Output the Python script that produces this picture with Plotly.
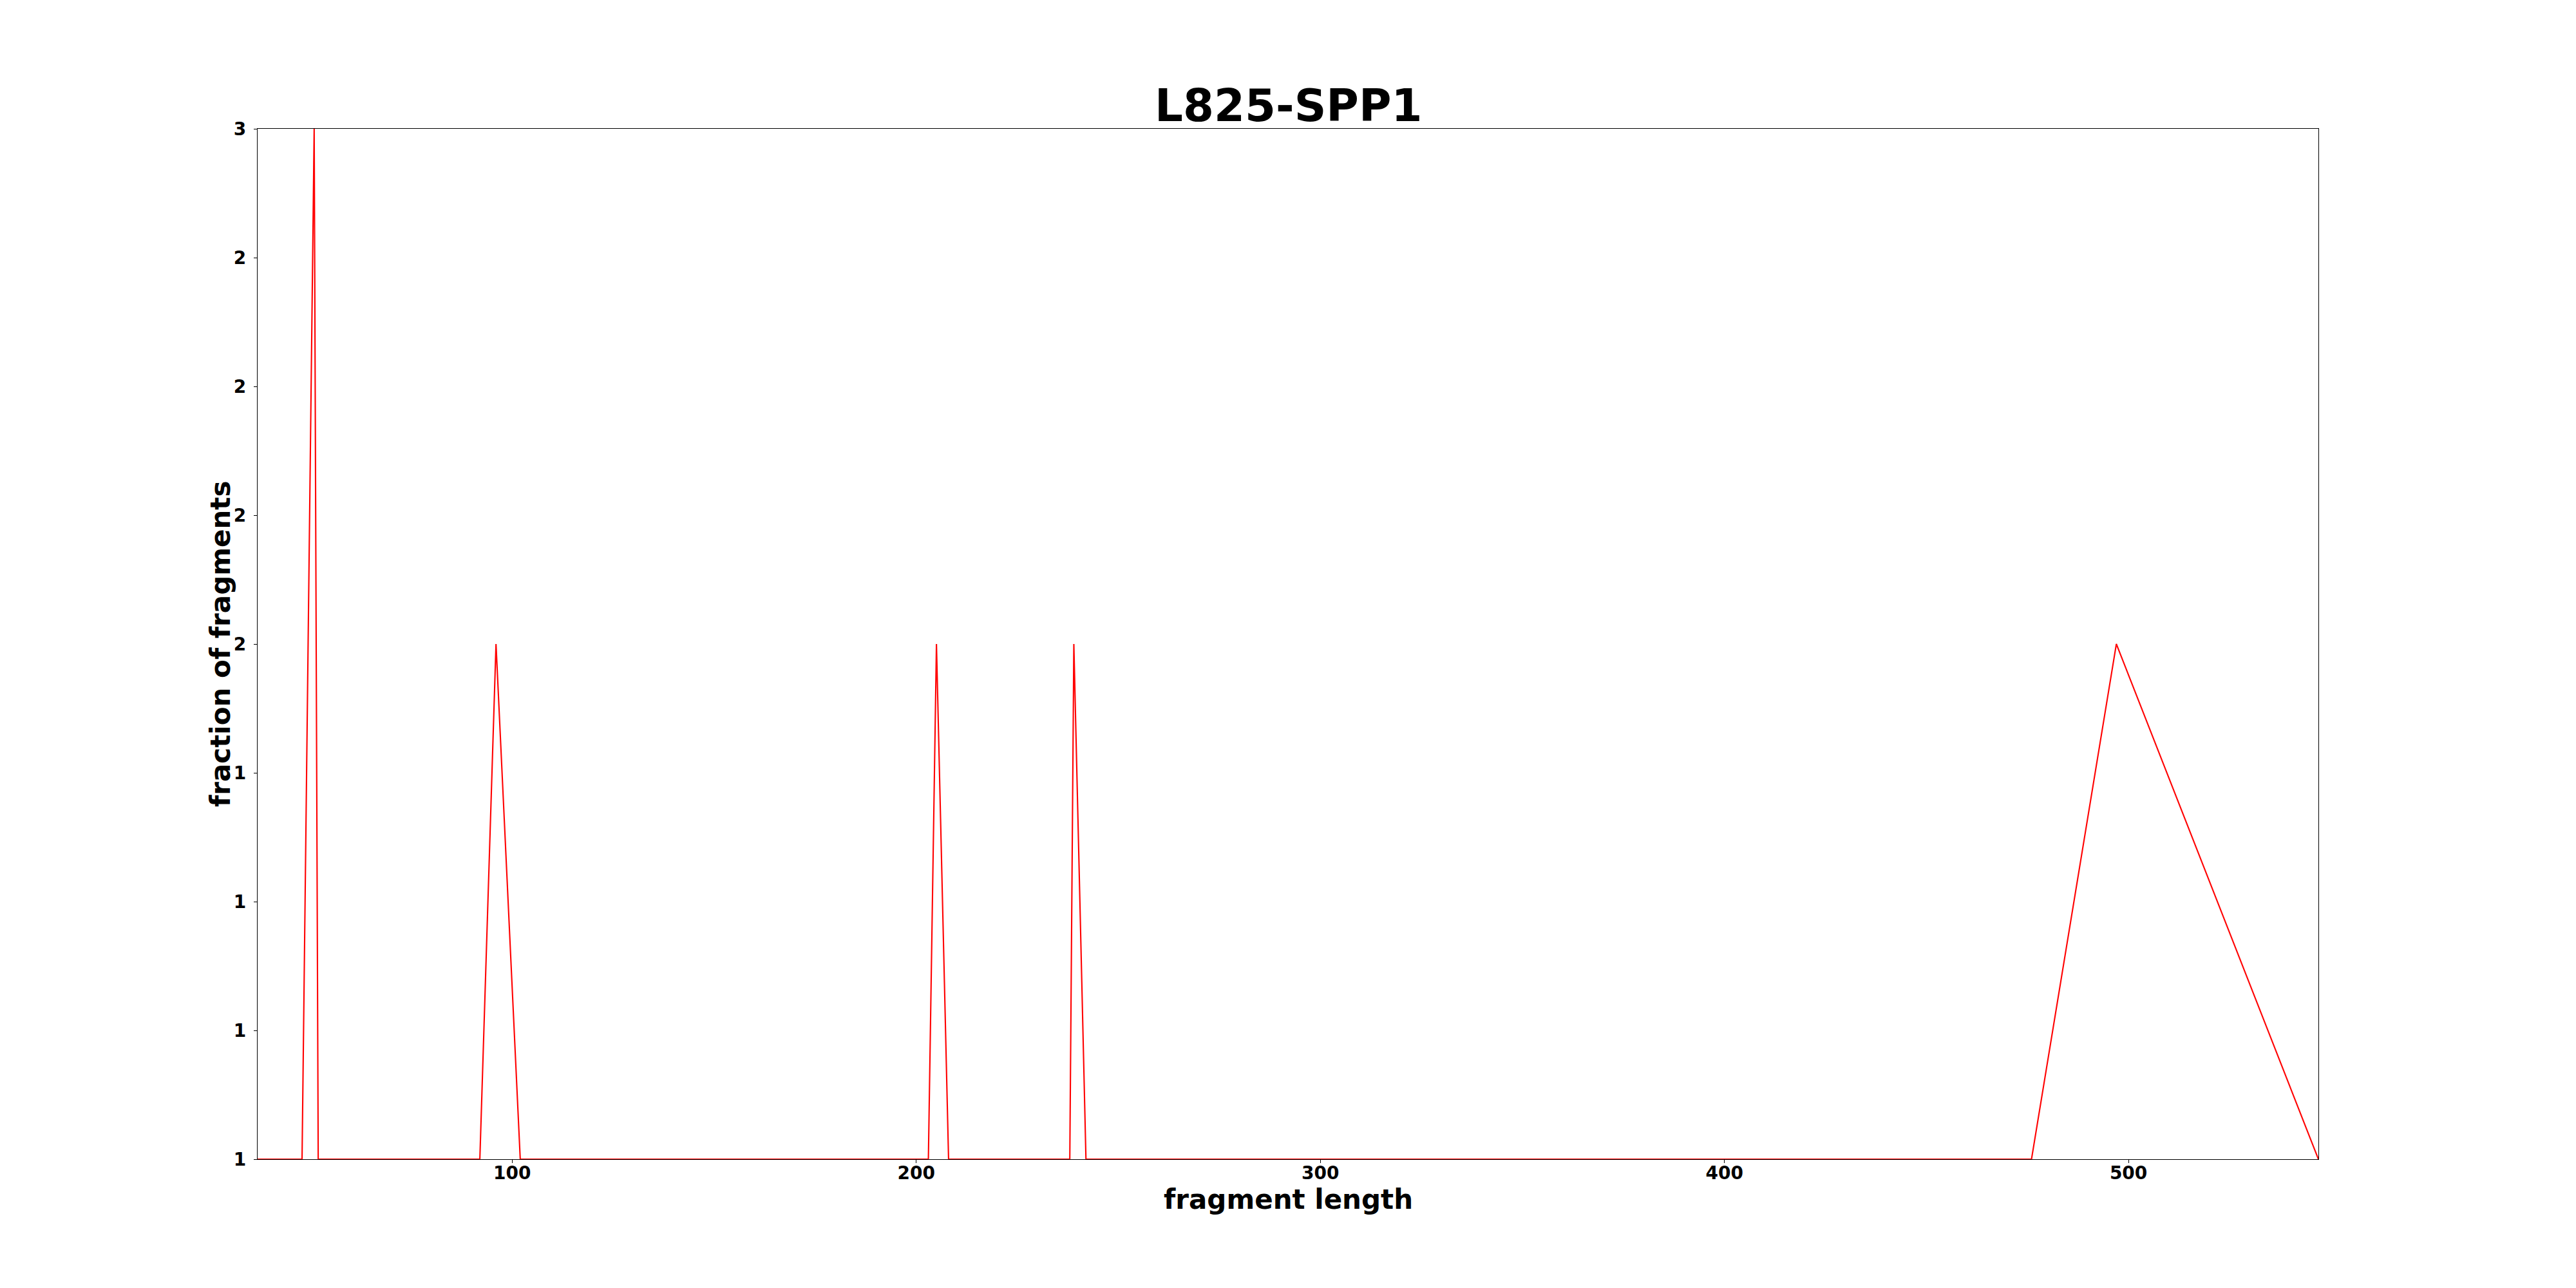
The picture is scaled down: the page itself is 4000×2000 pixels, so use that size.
import plotly.graph_objects as go

# fragment lengths and values
fragment_length = [37, 48, 51, 52, 92, 96, 102, 203, 205, 208, 238, 239, 242, 476, 497, 547]
fraction = [1, 1, 3, 1, 1, 2, 1, 1, 2, 1, 1, 2, 1, 1, 2, 1]

y_tick_vals = [1.0, 1.25, 1.5, 1.75, 2.0, 2.25, 2.5, 2.75, 3.0]
y_tick_text = ["1", "1", "1", "1", "2", "2", "2", "2", "3"]
x_tick_vals = [100, 200, 300, 400, 500]

title_text = "L825-SPP1"
x_label = "fragment length"
y_label = "fraction of fragments"

FONT = "DejaVu Sans"

fig = go.Figure()
fig.add_trace(go.Scatter(
    x=fragment_length, y=fraction, mode="lines",
    line=dict(color="#ff0000", width=2.1),
    showlegend=False,
))

fig.update_layout(
    width=4000, height=2000,
    paper_bgcolor="white", plot_bgcolor="white",
    margin=dict(l=392, r=408, t=192, b=208, pad=0),
    font=dict(family=FONT, color="black"),
)

axis_common = dict(
    showgrid=False, zeroline=False,
    showline=True, linecolor="black", linewidth=1.4, mirror=True,
    ticks="outside", ticklen=5, tickwidth=1.4, tickcolor="black",
    tickfont=dict(family=FONT, size=28, weight="bold", color="black"),
)

fig.update_xaxes(
    range=[37, 547], tickvals=x_tick_vals,
    ticktext=[str(v) for v in x_tick_vals],
    ticklabelstandoff=-9,
    **axis_common,
)
fig.update_yaxes(
    range=[1, 3], tickvals=y_tick_vals, ticktext=y_tick_text,
    ticklabelstandoff=6,
    **axis_common,
)

fig.add_annotation(
    text=title_text, xref="paper", yref="paper", x=0.5, y=1.0,
    xanchor="center", yanchor="bottom", showarrow=False,
    font=dict(family=FONT, size=69, weight="bold", color="black"),
    yshift=-6,
)
fig.add_annotation(
    text=x_label, xref="paper", yref="paper", x=0.5, y=0.0,
    xanchor="center", yanchor="middle", showarrow=False,
    font=dict(family=FONT, size=42, weight="bold", color="black"),
    yshift=-62,
)
fig.add_annotation(
    text=y_label, xref="paper", yref="paper", x=0.0, y=0.5,
    xanchor="center", yanchor="middle", showarrow=False, textangle=-90,
    font=dict(family=FONT, size=42, weight="bold", color="black"),
    xshift=-58,
)

fig.write_html("out.html")
